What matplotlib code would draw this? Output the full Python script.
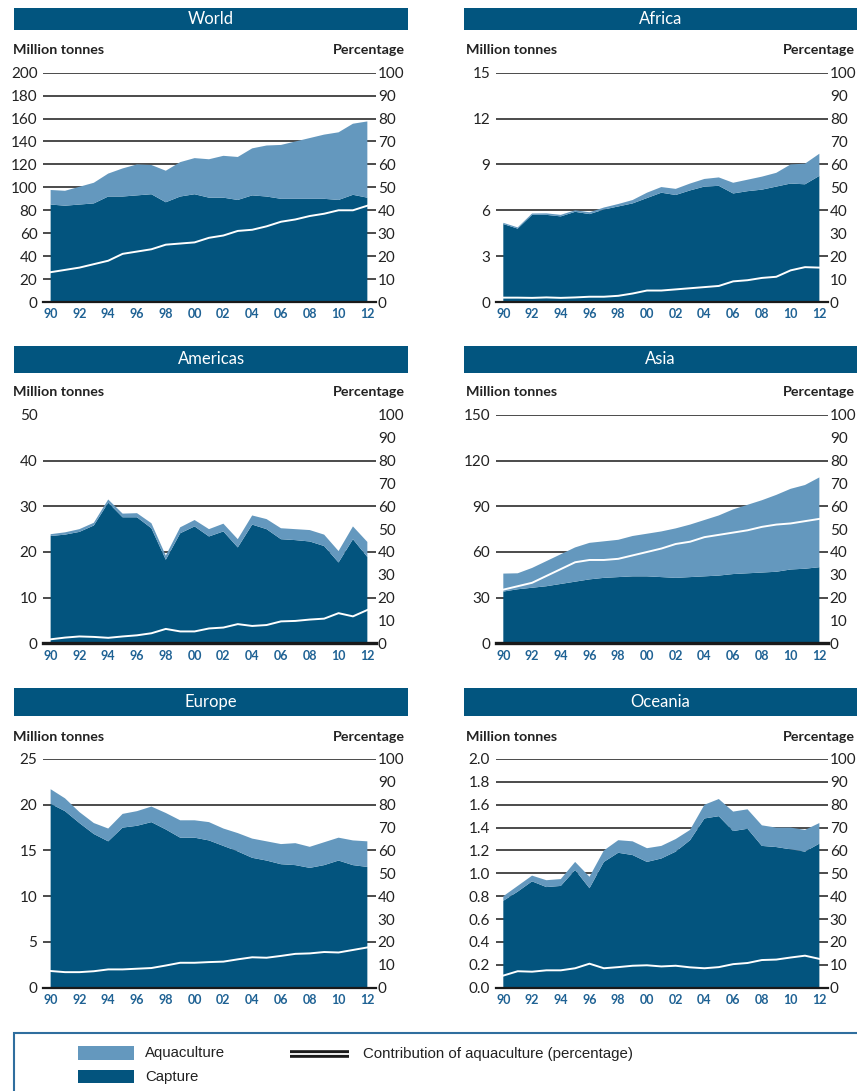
import matplotlib
matplotlib.use("Agg")
import matplotlib.pyplot as plt
from matplotlib.patches import Rectangle
from matplotlib.lines import Line2D

plt.rcParams['font.family'] = ['Lato', 'DejaVu Sans']

# --- data ---
years = list(range(1990, 2013))
year_labels = ['90', '92', '94', '96', '98', '00', '02', '04', '06', '08', '10', '12']

world_capture = [85, 84, 85, 86, 92, 92, 93, 94, 87, 92, 94, 91, 91, 89, 93, 92, 90, 90, 90, 90, 89, 93.5, 91]
world_aqua = [12.7, 13, 15.5, 18, 20, 24.5, 27, 25.5, 27.5, 30, 31.5, 33.5, 36.5, 37.5, 41, 44.5, 47, 50, 53, 56, 59, 62, 66.5]
world_pct = [13, 14, 15, 16.5, 18, 21, 22, 23, 25, 25.5, 26, 28, 29, 31, 31.5, 33, 35, 36, 37.5, 38.5, 40, 40, 42]

africa_capture = [5.1, 4.8, 5.7, 5.7, 5.6, 5.9, 5.75, 6.05, 6.25, 6.45, 6.8, 7.15, 7.0, 7.3, 7.55, 7.6, 7.1, 7.25, 7.35, 7.55, 7.75, 7.7, 8.25]
africa_aqua = [0.08, 0.08, 0.09, 0.1, 0.1, 0.1, 0.12, 0.13, 0.16, 0.22, 0.35, 0.37, 0.4, 0.45, 0.5, 0.55, 0.7, 0.75, 0.85, 0.9, 1.25, 1.35, 1.45]
africa_pct = [1.9, 1.9, 1.8, 2.0, 1.8, 2.0, 2.3, 2.3, 2.7, 3.7, 5.0, 5.0, 5.5, 6.0, 6.5, 7.0, 9.0, 9.5, 10.5, 11.0, 13.8, 15.2, 15.0]

americas_capture = [23.5, 23.8, 24.4, 25.8, 30.8, 27.6, 27.6, 25.2, 18.3, 24.1, 25.6, 23.4, 24.5, 21.0, 26.0, 25.0, 22.8, 22.6, 22.3, 21.3, 17.7, 22.8, 18.9]
americas_aqua = [0.4, 0.5, 0.6, 0.6, 0.7, 0.8, 0.9, 1.1, 0.9, 1.3, 1.4, 1.6, 1.7, 1.8, 2.0, 2.2, 2.4, 2.4, 2.5, 2.5, 2.5, 2.8, 3.3]
americas_pct = [1.75, 2.5, 3.0, 2.8, 2.4, 3.0, 3.5, 4.4, 6.3, 5.2, 5.2, 6.5, 6.9, 8.4, 7.6, 8.0, 9.6, 9.8, 10.4, 10.8, 13.2, 11.8, 14.6]

asia_capture = [34, 35.5, 36.5, 37.5, 39, 40.5, 42, 43, 43.5, 44, 44, 43.5, 43, 43.5, 44, 44.5, 45.5, 46, 46.5, 47, 48.5, 49, 50]
asia_aqua = [11.8, 10.5, 13, 16.5, 19.5, 22.5, 24, 24, 24.5, 26.5, 28, 30, 32.5, 34.5, 37, 39.5, 42.5, 45, 47.5, 50.5, 53, 55, 59]
asia_pct = [23.5, 25, 26.5, 29.5, 32.5, 35.5, 36.5, 36.5, 37, 38.5, 40, 41.5, 43.5, 44.5, 46.5, 47.5, 48.5, 49.5, 51, 52, 52.5, 53.5, 54.5]

europe_capture = [20.1, 19.3, 18.0, 16.8, 16.0, 17.5, 17.7, 18.1, 17.3, 16.4, 16.4, 16.1, 15.5, 14.9, 14.2, 13.9, 13.5, 13.4, 13.1, 13.4, 13.9, 13.4, 13.2]
europe_aqua = [1.6, 1.4, 1.2, 1.2, 1.4, 1.5, 1.6, 1.7, 1.8, 1.9, 1.9, 2.0, 1.9, 2.0, 2.1, 2.1, 2.2, 2.4, 2.3, 2.5, 2.5, 2.7, 2.8]
europe_pct = [7.3, 6.8, 6.8, 7.2, 8.0, 8.0, 8.3, 8.6, 9.7, 10.9, 10.9, 11.2, 11.4, 12.4, 13.3, 13.1, 13.9, 14.8, 15.0, 15.6, 15.4, 16.5, 17.6]

oceania_capture = [0.76, 0.84, 0.93, 0.88, 0.89, 1.03, 0.87, 1.10, 1.18, 1.16, 1.10, 1.13, 1.19, 1.29, 1.48, 1.50, 1.37, 1.39, 1.24, 1.23, 1.21, 1.19, 1.26]
oceania_aqua = [0.04, 0.05, 0.05, 0.06, 0.06, 0.07, 0.10, 0.10, 0.11, 0.12, 0.12, 0.11, 0.11, 0.09, 0.12, 0.15, 0.17, 0.17, 0.18, 0.17, 0.19, 0.19, 0.18]
oceania_pct = [5.3, 7.2, 7.0, 7.6, 7.6, 8.5, 10.5, 8.5, 9.0, 9.6, 9.8, 9.3, 9.6, 8.9, 8.5, 9.0, 10.3, 10.8, 12.1, 12.3, 13.2, 14.0, 12.6]

# (title, capture, aquaculture, pct, ymax, step, decimals, gridline at top, column, row)
panels = [
    ('World', world_capture, world_aqua, world_pct, 200, 20, 0, True, 0, 0),
    ('Africa', africa_capture, africa_aqua, africa_pct, 15, 3, 0, True, 1, 0),
    ('Americas', americas_capture, americas_aqua, americas_pct, 50, 10, 0, False, 0, 1),
    ('Asia', asia_capture, asia_aqua, asia_pct, 150, 30, 0, True, 1, 1),
    ('Europe', europe_capture, europe_aqua, europe_pct, 25, 5, 0, True, 0, 2),
    ('Oceania', oceania_capture, oceania_aqua, oceania_pct, 2.0, 0.2, 1, True, 1, 2),
]

CAPTURE = '#03547e'
AQUA = '#6498be'
BAR = '#02557f'
TICKBLUE = '#1f6294'
INK = '#222222'

W, H = 857, 1091
fig = plt.figure(figsize=(W / 100, H / 100), dpi=100)


def fx(px):
    return px / W


def fy(py):
    return 1 - py / H


cols = [(43, 375.7), (495.7, 827.7)]
rows = [(72.7, 302), (415, 643.3), (759, 987.7)]
bars = [(8, 30), (345.7, 373.3), (688.3, 716)]
bar_cols = [(14.3, 408), (464.3, 870)]
unit_y = [50, 391.7, 736.7]

for title, cap, aqua, pct, ymax, step, dec, top_grid, c, r in panels:
    x0, x1 = cols[c]
    y0, y1 = rows[r]
    ax = fig.add_axes([fx(x0), fy(y1), fx(x1) - fx(x0), (y1 - y0) / H])
    ax.set_xlim(1989.47, 2012.58)
    ax.set_ylim(0, ymax)

    n = int(round(ymax / step))
    yt = [i * step for i in range(n + 1)]
    for v in yt[1:]:
        if v < ymax - 1e-9 or top_grid:
            ax.axhline(v, color='#1a1a1a', lw=1.1, zorder=0)
    ax.stackplot(years, cap, aqua, colors=[CAPTURE, AQUA], lw=0, zorder=1)
    base_lw = 2.4 if r == 1 else 1.6
    ax.axhline(0, color='#1a1a1a', lw=base_lw, zorder=3, clip_on=False)

    ax.set_yticks(yt)
    ax.set_yticklabels([f'{v:.{dec}f}' for v in yt], fontsize=11, color=INK)
    ax.set_xticks(years[::2])
    ax.set_xticklabels(year_labels, fontsize=9, fontweight='bold', color=TICKBLUE)
    ax.tick_params(axis='y', length=0, pad=4)
    ax.tick_params(axis='x', length=0, pad=4.5)
    for s in ax.spines.values():
        s.set_visible(False)

    ax2 = ax.twinx()
    ax2.set_ylim(0, 100)
    ax2.plot(years, pct, color='white', lw=1.4, zorder=4)
    ax2.set_yticks(range(0, 101, 10))
    ax2.tick_params(axis='y', length=0, pad=1.5, labelsize=11, labelcolor=INK)
    for s in ax2.spines.values():
        s.set_visible(False)

    # title bar
    b0, b1 = bars[r]
    bx0, bx1 = bar_cols[c]
    fig.patches.append(Rectangle((fx(bx0), fy(b1)), fx(bx1) - fx(bx0), (b1 - b0) / H,
                                 transform=fig.transFigure, facecolor=BAR, edgecolor='none'))
    fig.text(fx((bx0 + min(bx1, 857)) / 2), fy((b0 + b1) / 2), title, color='white',
             fontsize=12, ha='center', va='center')

    # axis captions
    left_x = 13 if c == 0 else 466
    fig.text(fx(left_x), fy(unit_y[r]), 'Million tonnes', fontsize=10.3, fontweight='bold',
             color=INK, ha='left', va='center')
    if c == 0:
        fig.text(fx(405), fy(unit_y[r]), 'Percentage', fontsize=10.3, fontweight='bold',
                 color=INK, ha='right', va='center')
    else:
        fig.text(fx(783), fy(unit_y[r]), 'Percentage', fontsize=10.3, fontweight='bold',
                 color=INK, ha='left', va='center')

# legend box
fig.patches.append(Rectangle((fx(14), fy(1100)), fx(870) - fx(14), (1100 - 1033) / H,
                             transform=fig.transFigure, facecolor='none',
                             edgecolor='#2f6e9e', lw=1.5))
leg_font = ['Liberation Sans Narrow', 'Liberation Sans', 'DejaVu Sans']
fig.patches.append(Rectangle((fx(78), fy(1060)), fx(134) - fx(78), 14 / H,
                             transform=fig.transFigure, facecolor=AQUA, edgecolor='none'))
fig.patches.append(Rectangle((fx(78), fy(1083)), fx(134) - fx(78), 13 / H,
                             transform=fig.transFigure, facecolor=CAPTURE, edgecolor='none'))
fig.text(fx(145), fy(1053), 'Aquaculture', fontsize=10.8, family=leg_font, color=INK, va='center')
fig.text(fx(145), fy(1077), 'Capture', fontsize=10.8, family=leg_font, color=INK, va='center')
fig.lines.append(Line2D([fx(290), fx(349)], [fy(1054), fy(1054)], transform=fig.transFigure,
                        color='#1a1a1a', lw=5.5, solid_capstyle='butt'))
fig.lines.append(Line2D([fx(290), fx(349)], [fy(1054), fy(1054)], transform=fig.transFigure,
                        color='white', lw=1.3, solid_capstyle='butt'))
fig.text(fx(363), fy(1054), 'Contribution of aquaculture (percentage)', fontsize=10.8,
         family=leg_font, color=INK, va='center')

fig.savefig('out.png', dpi=100)
